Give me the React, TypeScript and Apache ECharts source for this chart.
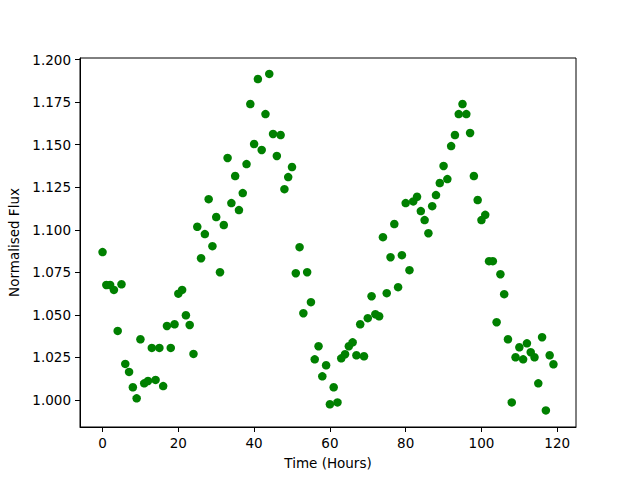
import React, { useEffect, useRef } from "react";
import * as echarts from "echarts";

const hours: number[] = Array.from({ length: 120 }, (_, i) => i);
const flux: number[] = [
  1.0869, 1.0676, 1.0676, 1.0647, 1.0406, 1.068, 1.0212, 1.0165, 1.0075, 1.001,
  1.0357, 1.0098, 1.0112, 1.0306, 1.0118, 1.0306, 1.0082, 1.0435, 1.0306, 1.0445,
  1.0625, 1.0647, 1.0498, 1.0441, 1.0271, 1.1018, 1.0833, 1.0975, 1.118, 1.0904,
  1.1075, 1.0751, 1.1028, 1.1422, 1.1157, 1.1316, 1.1116, 1.1216, 1.1386, 1.1739,
  1.1504, 1.1886, 1.1469, 1.168, 1.1916, 1.1563, 1.1434, 1.1557, 1.1239, 1.131,
  1.1369, 1.0745, 1.0898, 1.051, 1.0751, 1.0575, 1.0239, 1.0316, 1.0139, 1.0204,
  0.9975, 1.0075, 0.9986, 1.0245, 1.0269, 1.0316, 1.0339, 1.0263, 1.0445, 1.0257,
  1.0481, 1.061, 1.0504, 1.0492, 1.0957, 1.0628, 1.0839, 1.1034, 1.0663, 1.0851,
  1.1157, 1.0763, 1.1167, 1.1194, 1.111, 1.1057, 1.098, 1.1139, 1.1204, 1.1275,
  1.1375, 1.1298, 1.1492, 1.1557, 1.168, 1.1739, 1.168, 1.1569, 1.1316, 1.1175,
  1.1057, 1.1088, 1.0816, 1.0816, 1.0457, 1.0739, 1.0622, 1.0357, 0.9986, 1.0251,
  1.031, 1.0239, 1.0333, 1.0281, 1.0251, 1.0098, 1.0369, 0.9939, 1.0263, 1.021,
];
const xTicks: number[] = [0, 20, 40, 60, 80, 100, 120];
const yTicks: number[] = [1.0, 1.025, 1.05, 1.075, 1.1, 1.125, 1.15, 1.175, 1.2];

const font = "DejaVu Sans";

export default function App() {
  const ref = useRef<HTMLDivElement>(null);
  useEffect(() => {
    if (!ref.current) return;
    const chart = echarts.init(ref.current, undefined, { renderer: "svg" });
    const xMin = -5.95, xMax = 124.95;
    const yMin = 0.98415, yMax = 1.20095;
    chart.setOption({
      animation: false,
      backgroundColor: "#fff",
      grid: {
        left: 80, top: 58, right: 64, bottom: 53,
        containLabel: false, outerBoundsMode: "none",
        show: true, borderColor: "#000", borderWidth: 1, backgroundColor: "transparent",
      },
      xAxis: {
        type: "value", min: xMin, max: xMax,
        name: "Time (Hours)", nameLocation: "middle", nameGap: 29,
        nameTextStyle: { fontFamily: font, fontSize: 13.5, color: "#000" },
        axisLine: { show: true, onZero: false, lineStyle: { color: "#000" } },
        axisTick: { show: true, length: 5, customValues: xTicks, lineStyle: { color: "#000" } },
        axisLabel: {
          customValues: xTicks, margin: 9, fontFamily: font, fontSize: 13.5, color: "#000",
          formatter: (v: number) => String(Math.round(v)),
        },
        splitLine: { show: false },
      },
      yAxis: {
        type: "value", min: yMin, max: yMax,
        name: "Normalised Flux", nameLocation: "middle", nameGap: 54, nameRotate: 90,
        nameTextStyle: { fontFamily: font, fontSize: 13.5, color: "#000" },
        axisLine: { show: true, onZero: false, lineStyle: { color: "#000" } },
        axisTick: { show: true, length: 5, customValues: yTicks, lineStyle: { color: "#000" } },
        axisLabel: {
          customValues: yTicks, margin: 9, fontFamily: font, fontSize: 13.5, color: "#000",
          formatter: (v: number) => v.toFixed(3),
        },
        splitLine: { show: false },
      },
      series: [
        {
          type: "scatter",
          data: hours.map((h, i) => [h, flux[i]]),
          symbol: "circle",
          symbolSize: 8.5,
          itemStyle: { color: "#008000", opacity: 1 },
        },
      ],
    });
    return () => chart.dispose();
  }, []);
  return <div ref={ref} style={{ width: 640, height: 480, position: "absolute", left: 0, top: 0 }} />;
}
